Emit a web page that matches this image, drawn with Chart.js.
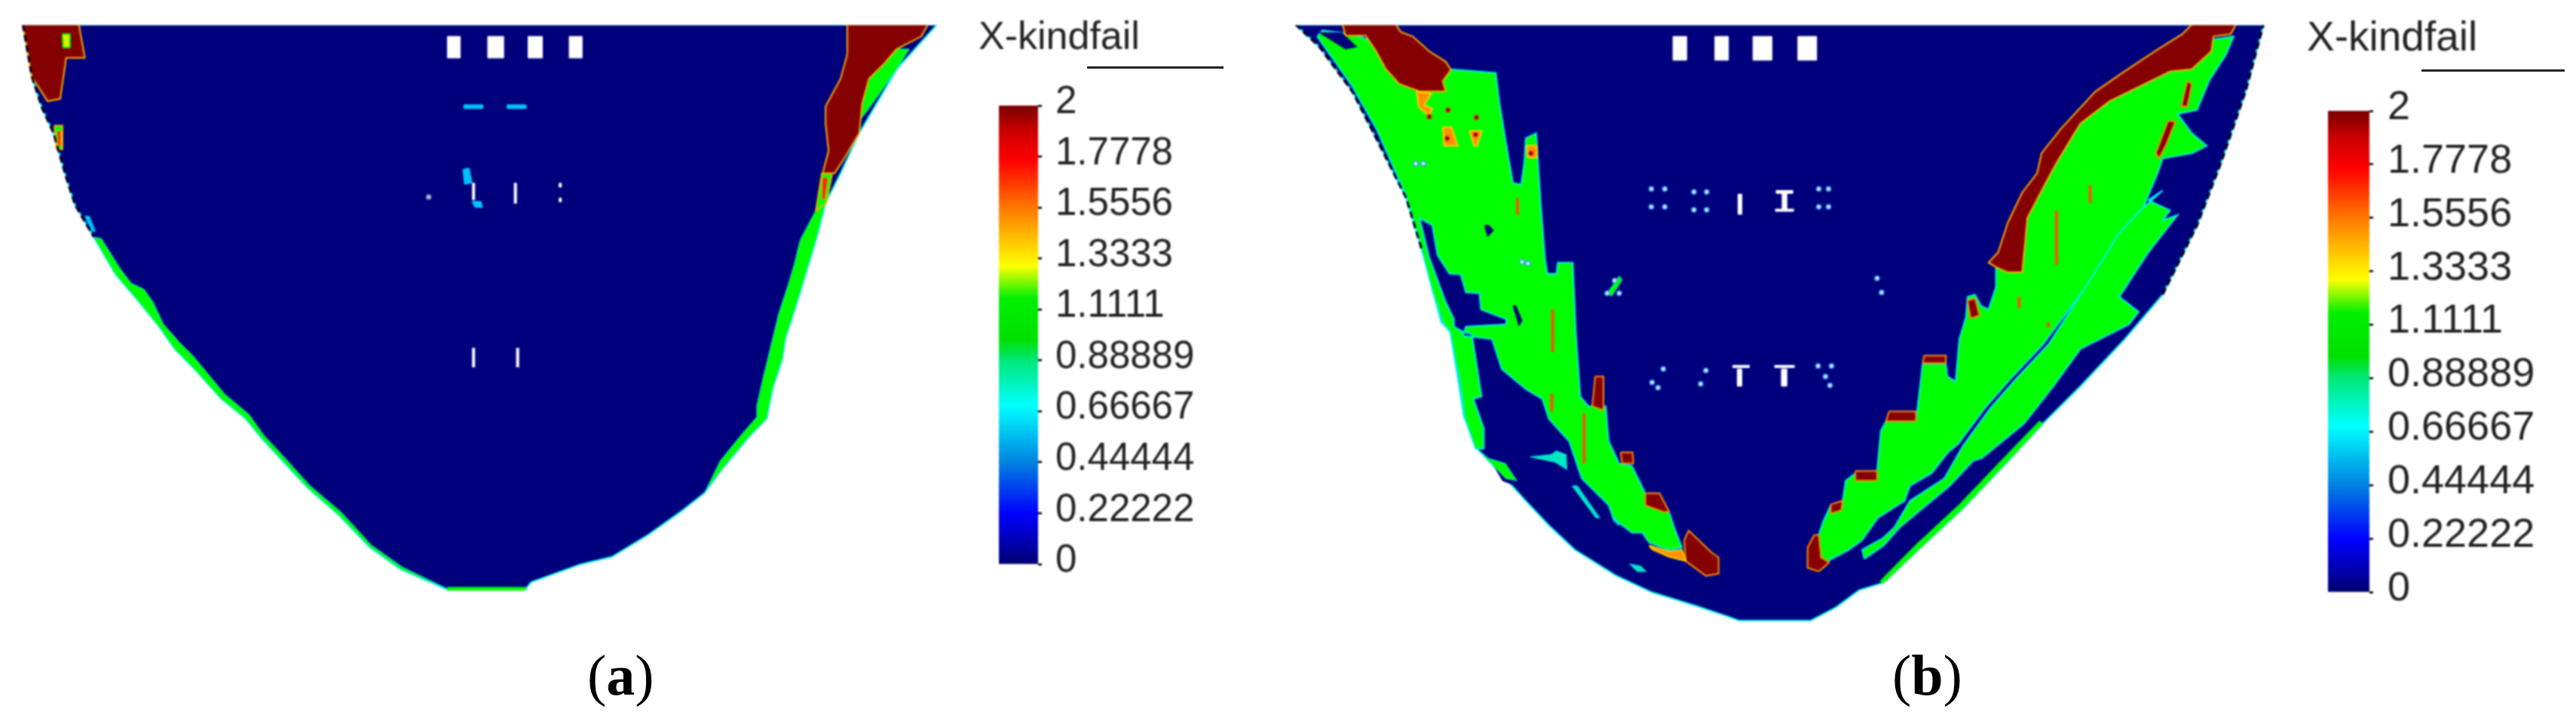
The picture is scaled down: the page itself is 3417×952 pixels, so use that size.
<!DOCTYPE html>
<html lang="en">
<head>
<meta charset="UTF-8" />
<title>X-kindfail</title>
<script src="https://cdn.jsdelivr.net/npm/chart.js@4/dist/chart.umd.min.js"></script>
<style>
  html, body { margin: 0; background: #fff; width: 3417px; height: 952px; overflow: hidden; }
  canvas { position: absolute; top: 0; filter: blur(0.8px); }
  .rule { position: absolute; height: 3px; background: #222; }
  .cap { position: absolute; font: 76px "Liberation Serif", serif; color: #000; line-height: 1; }
</style>
</head>
<body>
<canvas id="fieldA" width="1290" height="772" style="left:0;top:28px"></canvas>
<canvas id="barA" width="400" height="800" style="left:1298px"></canvas>
<canvas id="fieldB" width="1320" height="822" style="left:1700px;top:28px"></canvas>
<canvas id="barB" width="357" height="850" style="left:3060px"></canvas>
<div class="rule" style="left:1442px;top:88px;width:181px"></div>
<div class="rule" style="left:3212px;top:92px;width:190px"></div>
<div class="cap" style="left:779px;top:857px">(<b>a</b>)</div>
<div class="cap" style="left:2510px;top:857px">(<b>b</b>)</div>
<script>
// colour scale
const tickValues = [0, 0.22222, 0.44444, 0.66667, 0.88889, 1.1111, 1.3333, 1.5556, 1.7778, 2];
const tickLabels = ["0", "0.22222", "0.44444", "0.66667", "0.88889", "1.1111", "1.3333", "1.5556", "1.7778", "2"];
const scaleStops = [0, 0.06, 0.22, 0.44, 0.69, 0.89, 0.98, 1.16, 1.3, 1.55, 1.76, 1.88, 2];
const scaleColors = ["#00006e", "#00009a", "#0000ff", "#0080e0", "#00ffff", "#00e878", "#00e000", "#00f000", "#ffff00", "#ff7a00", "#ff0000", "#d00000", "#7a0000"];
const scaleName = "X-kindfail";

// panel (a)
const aOutline = [[25,27],[37,97],[51,140],[66,173],[83,233],[95,270],[120,313],[149,363],[178,397],[207,433],[228,463],[257,493],[290,530],[323,557],[344,583],[369,610],[406,650],[448,687],[489,730],[531,760],[593,787],[697,787],[705,777],[771,753],[813,743],[862,713],[904,683],[937,657],[962,623],[995,583],[1020,557],[1028,517],[1041,477],[1045,450],[1061,400],[1086,317],[1099,267],[1119,227],[1144,173],[1194,87],[1248,27]];
const aGreenLeft = [[120,313],[149,363],[178,397],[207,433],[228,463],[257,493],[290,530],[323,557],[344,583],[369,610],[406,650],[448,687],[489,730],[531,760],[593,787],[591,785],[533,757],[491,727],[451,683],[409,647],[372,606],[347,579],[328,552],[295,524],[262,484],[253,473],[235,455],[213,430],[199,400],[187,383],[170,375],[155,355],[130,315]];
const aGreenRight = [[1099,267],[1086,317],[1061,400],[1045,450],[1041,477],[1028,517],[1020,557],[995,583],[962,623],[937,657],[958,614],[987,578],[1007,555],[1007,540],[1016,500],[1024,467],[1036,417],[1049,377],[1057,350],[1065,317],[1086,277]];
const aGreenSliver = [[1211,60],[1190,60],[1169,80],[1144,123],[1144,157],[1157,140],[1194,87]];
const aRedLeft = [[25,27],[100,27],[108,72],[83,72],[75,127],[58,130],[37,97]];
const aRedRight = [[1128,27],[1236,27],[1227,43],[1194,60],[1177,80],[1157,100],[1148,133],[1144,173],[1124,207],[1111,227],[1095,227],[1103,197],[1099,160],[1099,137],[1119,100],[1128,67]];
const aGreenPatches = [[[1094,227],[1108,227],[1100,267],[1086,277]], [[78,40],[88,40],[88,58],[79,58]], [[67,163],[78,163],[78,195],[70,195]], [[1135,35],[1143,35],[1147,60],[1140,62]]];
const aRedPatches = [[[1095,233],[1102,233],[1098,262],[1094,262]], [[71,170],[76,170],[76,190],[72,190]]];
const aHoles = [[593,43,610,72], [647,43,668,72], [701,43,720,72], [756,43,773,72]];
const aCyan = [[[615,135],[640,135],[640,140],[615,140]], [[673,135],[698,135],[698,140],[673,140]], [[614,222],[622,220],[626,240],[616,242]], [[626,265],[638,265],[640,273],[630,273]], [[108,285],[114,285],[122,305],[118,305]]];
const aBase = [593, 784, 697, 788];
const aSlits = [[628,240,263], [684,240,268], [744,240,246], [744,260,266], [628,462,488], [687,462,488]];
const aDots = [[568,259]];

// panel (b)
const bOutline = [[1713,27],[1745,57],[1789,117],[1816,170],[1861,260],[1883,333],[1908,427],[1920,440],[1931,507],[1938,553],[1956,597],[1994,637],[2021,667],[2052,700],[2087,733],[2141,767],[2190,790],[2248,808],[2293,823],[2306,828],[2402,828],[2436,810],[2467,787],[2500,777],[2546,733],[2606,677],[2663,617],[2713,563],[2763,513],[2822,450],[2873,390],[2919,297],[2951,213],[2984,117],[3008,27]];
const bGreenLeft = [[1742,43],[1749,35],[1790,40],[1919,87],[1981,92],[1986,133],[1997,200],[2004,240],[2015,242],[2019,213],[2021,180],[2035,173],[2041,267],[2047,343],[2050,362],[2062,362],[2064,347],[2084,347],[2088,440],[2094,527],[2105,540],[2128,540],[2132,587],[2146,617],[2163,620],[2179,653],[2186,673],[2212,680],[2221,707],[2230,730],[2212,733],[2186,723],[2177,710],[2163,710],[2146,697],[2139,690],[1965,597],[1954,597],[1940,557],[1933,507],[1920,440],[1910,427],[1896,383],[1879,317],[1861,257],[1821,167],[1789,110]];
const bNavyLeft = [[1879,287],[1896,297],[1903,337],[1919,362],[1934,363],[1941,387],[1959,388],[1961,410],[1995,423],[1995,430],[1941,433],[1937,445],[1976,450],[1989,490],[2021,517],[2043,530],[2052,557],[2079,587],[2096,637],[2132,673],[2139,693],[2146,700],[1990,640],[1965,597],[1965,570],[1951,530],[1962,527],[1949,443],[1937,440],[1925,433],[1925,423],[1914,400],[1892,340]];
const bNavyEdge = [[1879,287],[1896,297],[1903,337],[1919,362],[1934,363],[1941,387],[1959,388],[1961,410],[1995,423],[1995,430],[1941,433],[1937,445],[1976,450],[1989,490],[2021,517],[2043,530],[2052,557],[2079,587],[2096,637],[2132,673],[2139,693],[2146,700]];
const bNavyEdgeLeft = [[1965,597],[1965,570],[1951,530],[1962,527],[1949,443],[1937,440],[1925,433],[1925,423],[1914,400],[1892,340],[1879,287]];
const bNavyBits = [[[1745,38],[1775,38],[1795,57],[1780,60]], [[1966,297],[1972,297],[1978,304],[1970,312]], [[2004,405],[2008,405],[2016,425],[2012,432]]];
const bGreenEdge = [[[1956,597],[1971,610],[1994,617],[2009,640],[1994,637]]];
const bGreenRight = [[2416,745],[2413,713],[2418,697],[2429,673],[2445,667],[2449,640],[2462,630],[2491,627],[2496,573],[2503,560],[2543,560],[2552,483],[2583,483],[2585,500],[2596,507],[2601,450],[2610,420],[2612,393],[2622,390],[2630,405],[2640,410],[2650,380],[2650,353],[2685,360],[2689,320],[2692,287],[2718,237],[2731,213],[2763,160],[2802,130],[2883,90],[2912,87],[2941,47],[2968,43],[2958,67],[2935,103],[2919,142],[2893,147],[2912,173],[2932,190],[2912,200],[2873,207],[2867,225],[2847,273],[2815,307],[2770,380],[2713,457],[2670,503],[2635,543],[2600,590],[2585,603],[2564,630],[2535,647],[2528,667],[2492,690],[2471,720],[2453,733],[2425,748]];
const bGreenStrip = [[2474,745],[2500,727],[2521,703],[2588,647],[2620,613],[2631,610],[2688,563],[2727,513],[2763,463],[2828,430],[2841,413],[2815,393],[2854,333],[2893,283],[2873,290],[2883,277],[2854,263],[2873,250],[2847,273],[2815,307],[2770,380],[2720,457],[2677,503],[2642,543],[2606,593],[2581,637],[2535,667],[2514,703],[2499,717],[2471,733]];
const bGreenOuter = [[2499,778],[2546,733],[2606,677],[2663,617],[2713,563],[2708,560],[2658,612],[2601,672],[2541,728],[2495,775]];
const bGreenCross = [[2146,365],[2150,370],[2136,392],[2130,388]];
const bRedTop = [[1776,27],[1847,27],[1854,37],[1870,43],[1892,63],[1914,77],[1921,88],[1910,103],[1914,117],[1879,117],[1852,107],[1834,87],[1821,63],[1807,42],[1780,42]];
const bRedBand = [[2650,353],[2640,347],[2653,333],[2666,293],[2685,253],[2705,227],[2711,200],[2737,167],[2783,117],[2822,90],[2867,60],[2899,40],[2912,27],[2971,27],[2964,40],[2941,43],[2938,63],[2912,87],[2883,90],[2802,130],[2763,160],[2731,213],[2718,237],[2692,287],[2689,320],[2685,360],[2666,360]];
const bRedBlobs = [
  [[2233,720],[2239,707],[2270,737],[2279,743],[2279,765],[2262,768],[2235,748]],
  [[2181,657],[2200,657],[2212,680],[2212,682],[2205,682],[2181,673]],
  [[2148,602],[2164,602],[2165,617],[2150,617]],
  [[2114,500],[2125,500],[2125,545],[2110,540]],
  [[2407,713],[2413,713],[2416,743],[2427,750],[2413,762],[2398,757],[2398,730]],
  [[2507,547],[2543,547],[2543,560],[2503,560]],
  [[2554,472],[2583,472],[2583,482],[2552,482]],
  [[2462,627],[2491,627],[2491,640],[2462,640]],
  [[2429,672],[2445,667],[2443,680],[2429,684]],
  [[2612,398],[2622,395],[2628,418],[2616,422]],
  [[2906,103],[2912,107],[2906,137],[2898,137]],
  [[2880,157],[2890,157],[2877,190],[2868,207],[2864,200]]
];
const bOrangeBlobs = [
  [[2186,727],[2212,735],[2230,733],[2235,748],[2212,742],[2190,732]],
  [[1875,117],[1895,120],[1885,135],[1896,140],[1892,150],[1878,138]],
  [[1910,165],[1922,165],[1930,190],[1912,190]],
  [[1946,170],[1962,170],[1956,190],[1952,190]],
  [[2022,190],[2036,190],[2036,206],[2024,206]]
];
const bDark = [[1892,151,4], [1954,175,4], [1916,180,3], [2028,200,4], [1917,142,3], [1955,152,3]];
const bSlits = [[2057,410,467], [2056,523,547], [2099,550,617], [2010,260,283], [2776,243,267], [2731,277,350], [2681,393,408], [2720,427,434]];
const bHoles = [[2218,43,2236,75], [2274,43,2292,75], [2325,43,2350,75], [2385,43,2410,75], [2305,255,2310,282], [2364,252,2370,277], [2356,250,2378,254], [2355,275,2379,278], [2304,490,2310,513], [2298,485,2320,488], [2363,490,2370,513], [2354,485,2380,488]];
const bDots = [[2189,248],[2207,248],[2189,272],[2207,272],[2246,252],[2263,252],[2246,276],[2263,276],[2413,248],[2426,248],[2413,272],[2426,272],[2491,368],[2497,387],[2140,371],[2130,388],[2146,388],[2190,508],[2205,490],[2198,515],[2255,510],[2262,492],[2412,486],[2430,486],[2422,500],[2428,512],[1874,214],[1884,214],[2016,346],[2024,348]];
const bCyan = [[[2027,608],[2055,605],[2062,600],[2075,605],[2076,625],[2060,615]], [[2083,647],[2090,647],[2120,690],[2115,690]], [[2160,752],[2175,755],[2182,762],[2170,762]]];

const NAVY = "#00007c", GREEN = "#00ff00", CYAN = "#00f0f0", DARKRED = "#850000", ORANGE = "#ffb000";

function shape(points, fill, edge, width) {
  const closed = points.concat([points[0]]);
  return {
    data: closed.map(([x, y]) => ({ x, y })),
    backgroundColor: fill,
    borderColor: edge || fill,
    borderWidth: width === undefined ? 2 : width,
    fill: "shape",
    pointRadius: 0,
    tension: 0,
  };
}

function rect([x0, y0, x1, y1], fill) {
  return shape([[x0, y0], [x1, y0], [x1, y1], [x0, y1]], fill, fill, 1);
}

function slit([x, y0, y1], color, width) {
  return {
    data: [{ x, y: y0 }, { x, y: y1 }],
    borderColor: color,
    borderWidth: width,
    fill: false,
    pointRadius: 0,
  };
}

function edge(points, color) {
  return {
    data: points.map(([x, y]) => ({ x, y })),
    borderColor: color,
    borderWidth: 2,
    fill: false,
    pointRadius: 0,
  };
}

function rim(points) {
  return {
    data: points.map(([x, y]) => ({ x, y })),
    borderColor: "#000020",
    borderWidth: 3,
    borderDash: [9, 5],
    fill: false,
    pointRadius: 0,
  };
}

function dots(points, color, rimColor, r) {
  return {
    type: "scatter",
    data: points.map(([x, y]) => ({ x, y })),
    backgroundColor: color,
    borderColor: rimColor,
    borderWidth: 1.5,
    pointRadius: r,
    showLine: false,
  };
}

function drawField(id, xMin, xMax, yMin, yMax, layers) {
  // later layers go on top
  layers.forEach((d, i) => { d.order = layers.length - i; });
  new Chart(document.getElementById(id), {
    type: "line",
    data: { datasets: layers },
    options: {
      responsive: false,
      animation: false,
      layout: { padding: 0 },
      plugins: { legend: { display: false }, tooltip: { enabled: false }, filler: { drawTime: "beforeDatasetDraw" } },
      scales: {
        x: { type: "linear", display: false, min: xMin, max: xMax },
        y: { type: "linear", display: false, min: yMin, max: yMax, reverse: true },
      },
    },
  });
}

function drawBar(id, cfg) {
  new Chart(document.getElementById(id), {
    type: "bar",
    data: {
      labels: [scaleName],
      datasets: [{
        data: [[0, 2]],
        barPercentage: 1,
        categoryPercentage: 1,
        yAxisID: "y",
        backgroundColor(ctx) {
          const area = ctx.chart.chartArea;
          if (!area) return scaleColors[0];
          const g = ctx.chart.ctx.createLinearGradient(0, area.bottom, 0, area.top);
          scaleStops.forEach((s, i) => g.addColorStop(s / 2, scaleColors[i]));
          return g;
        },
      }],
    },
    options: {
      responsive: false,
      animation: false,
      layout: { padding: { bottom: cfg.bottomPad } },
      plugins: {
        legend: { display: false },
        tooltip: { enabled: false },
        title: {
          display: true,
          text: scaleName,
          align: "start",
          color: "#222",
          font: { family: "Liberation Sans", size: cfg.titleSize, weight: "normal", lineHeight: 1.2 },
          padding: { top: cfg.titleTop, bottom: cfg.plotTop - cfg.titleTop - cfg.titleSize * 1.2 },
        },
      },
      scales: {
        x: { display: false },
        pad: {
          axis: "y",
          position: "left",
          grid: { display: false },
          border: { display: false },
          ticks: { display: false },
          afterFit(s) { s.width = cfg.leftPad; },
        },
        y: {
          position: "right",
          min: 0,
          max: 2,
          border: { display: false },
          grid: { drawOnChartArea: false, tickLength: 5, tickColor: "#222", tickWidth: 3 },
          afterBuildTicks(s) { s.ticks = tickValues.map((value) => ({ value })); },
          afterFit(s) { s.width = cfg.axisWidth; },
          ticks: {
            autoSkip: false,
            color: "#222",
            padding: cfg.labelGap,
            labelOffset: -4,
            font: { family: "Liberation Sans", size: cfg.labelSize },
            callback: (v, i) => tickLabels[i],
          },
        },
      },
    },
  });
}

drawField("fieldA", 0, 1290, 28, 800, [
  shape(aOutline, NAVY, CYAN, 2),
  shape(aGreenLeft, GREEN, CYAN, 1),
  shape(aGreenRight, GREEN, CYAN, 1),
  shape(aGreenSliver, GREEN, CYAN, 1),
  rect(aBase, GREEN),
  ...aGreenPatches.map((p) => shape(p, GREEN, ORANGE, 2)),
  shape(aRedLeft, DARKRED, ORANGE, 2),
  shape(aRedRight, DARKRED, ORANGE, 2),
  ...aGreenPatches.slice(1, 2).map((p) => shape(p, "#e0f000", GREEN, 2)),
  ...aRedPatches.map((p) => shape(p, "#ff2000", ORANGE, 1)),
  ...aCyan.map((p) => shape(p, "#00c0ff", "#00e0ff", 1)),
  ...aHoles.map((r) => rect(r, "#fff")),
  ...aSlits.map((s) => slit(s, "#fff", 4)),
  dots(aDots, "#c0c0e0", "#8080c0", 3),
  rim(aOutline.slice(0, 7)),
]);

drawField("fieldB", 1700, 3020, 28, 850, [
  shape(bOutline, NAVY, CYAN, 2),
  shape(bGreenOuter, GREEN, GREEN, 1),
  shape(bGreenLeft, GREEN, CYAN, 2),
  shape(bNavyLeft, NAVY, NAVY, 1),
  edge(bNavyEdge, CYAN),
  edge(bNavyEdgeLeft, CYAN),
  ...bNavyBits.map((p) => shape(p, NAVY, NAVY, 1)),
  ...bGreenEdge.map((p) => shape(p, GREEN, CYAN, 1)),
  shape(bGreenRight, GREEN, CYAN, 2),
  shape(bGreenStrip, GREEN, CYAN, 2),
  shape(bGreenCross, GREEN, CYAN, 1),
  ...bCyan.map((p) => shape(p, "#00e8c0", CYAN, 1)),
  shape(bRedTop, DARKRED, ORANGE, 2),
  shape(bRedBand, DARKRED, ORANGE, 2),
  ...bRedBlobs.map((p) => shape(p, DARKRED, "#ff9000", 2)),
  ...bOrangeBlobs.map((p) => shape(p, "#ff9000", "#ffd000", 2)),
  ...bSlits.map((s) => slit(s, "#ff5000", 4)),
  dots(bDark, "#600000", "#ff4000", 3),
  ...bHoles.map((r) => rect(r, "#fff")),
  dots(bDots, "#e8e8ff", "#30a0ff", 3),
  rim(bOutline.slice(0, 6)),
  rim(bOutline.slice(-5)),
]);

drawBar("barA", { leftPad: 27, axisWidth: 321, titleSize: 52, titleTop: 19, plotTop: 140, bottomPad: 52, labelGap: 18, labelSize: 51 });
drawBar("barB", { leftPad: 28, axisWidth: 274, titleSize: 55, titleTop: 19, plotTop: 147, bottomPad: 65, labelGap: 19, labelSize: 54 });
</script>
</body>
</html>
